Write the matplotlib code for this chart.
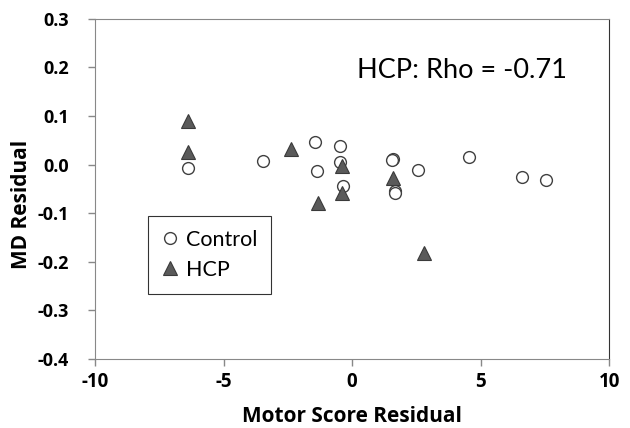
import matplotlib.pyplot as plt
from matplotlib.lines import Line2D

plt.rcParams['font.family'] = ['Lato', 'DejaVu Sans']

# Control group residuals
control_x = [-6.39, -3.45, -1.44, -1.35, -0.47, -0.47, -0.35, 1.58, 1.54, 1.65, 1.67, 2.58, 4.56, 6.60, 7.55]
control_y = [-0.006, 0.008, 0.046, -0.014, 0.039, 0.006, -0.043, 0.011, 0.009, -0.054, -0.059, -0.012, 0.015, -0.025, -0.031]

# HCP group residuals
hcp_x = [-6.40, -6.40, -2.37, -0.40, -1.31, -0.40, 1.58, 2.80]
hcp_y = [0.090, 0.027, 0.032, -0.003, -0.079, -0.059, -0.028, -0.181]

xticks = [-10, -5, 0, 5, 10]
yticks = [-0.4, -0.3, -0.2, -0.1, 0.0, 0.1, 0.2, 0.3]

bold = {'family': ['Open Sans', 'DejaVu Sans'], 'weight': 'bold'}

fig = plt.figure(figsize=(6.3, 4.28), dpi=100)
ax = fig.add_axes([0.151, 0.161, 0.816, 0.795])

ax.plot(control_x, control_y, 'o', ms=8.5, mfc='white', mec='#404040', mew=1.0, ls='none')
ax.plot(hcp_x, hcp_y, '^', ms=10, mfc='#5a5a5a', mec='#3a3a3a', mew=0.8, ls='none')

ax.set_xlim(-10, 10)
ax.set_ylim(-0.4, 0.3)
ax.set_xticks(xticks)
ax.set_yticks(yticks)
ax.set_xticklabels([str(t) for t in xticks], fontsize=13.5, **bold)
ax.set_yticklabels(['%.1f' % t for t in yticks], fontsize=13, **bold)
ax.tick_params(direction='out', length=5, color='#888888', width=1)
ax.tick_params(axis='x', pad=4)
ax.tick_params(axis='y', pad=14)

for side in ['left', 'bottom', 'top']:
    ax.spines[side].set_color('#888888')
ax.spines['right'].set_color('#333333')

ax.set_xlabel('Motor Score Residual', fontsize=15, **bold)
ax.set_ylabel('MD Residual', fontsize=15, **bold)
ax.xaxis.set_label_coords(0.5, -0.138)
ax.yaxis.set_label_coords(-0.122, 0.454)

ax.text(0.51, 0.826, 'HCP: Rho = -0.71', transform=ax.transAxes, fontsize=19.5)

handles = [
    Line2D([], [], marker='o', ls='none', ms=8.5, mfc='white', mec='#404040', mew=1.0),
    Line2D([], [], marker='^', ls='none', ms=10, mfc='#5a5a5a', mec='#3a3a3a', mew=0.8),
]
leg = ax.legend(handles, ['Control', 'HCP'], loc='upper left', bbox_to_anchor=(0.103, 0.421),
                fontsize=15.5, frameon=True, fancybox=False, handlelength=0.7,
                handletextpad=0.4, labelspacing=0.45, borderpad=0.65, borderaxespad=0)
leg.get_frame().set_edgecolor('black')
leg.get_frame().set_linewidth(0.8)

fig.savefig('out.png', dpi=100)
